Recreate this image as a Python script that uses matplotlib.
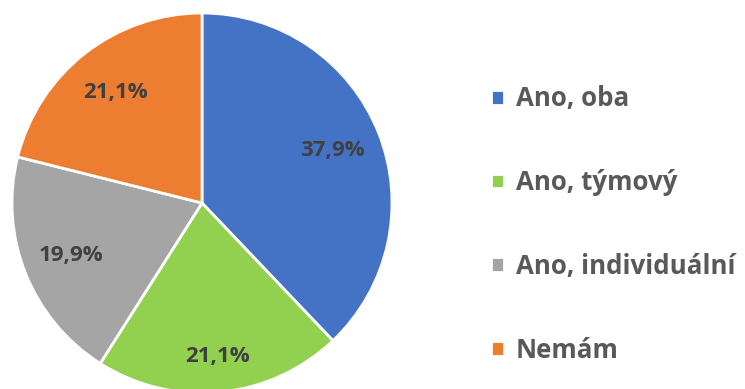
import matplotlib

matplotlib.use("Agg")
import matplotlib.pyplot as plt  # noqa: E402

labels = ["Ano, oba", "Ano, týmový", "Ano, individuální", "Nemám"]
shares = [37.9, 21.1, 19.9, 21.1]
colors = ["#4472C4", "#92D050", "#A5A5A5", "#ED7D31"]

W, H = 745, 389
plt.rcParams["font.family"] = ["Open Sans", "DejaVu Sans"]
fig = plt.figure(figsize=(W / 100, H / 100), dpi=100)

# pie centred at (202, 203) px from top-left, radius 190 px
cx, cy, r = 202, 203, 190
ax = fig.add_axes([(cx - r) / W, (H - cy - r) / H, 2 * r / W, 2 * r / H])

wedges, _, pcts = ax.pie(
    shares,
    colors=colors,
    startangle=90,
    counterclock=False,
    autopct=lambda p: f"{p:.1f}%".replace(".", ","),
    pctdistance=0.74,
    wedgeprops=dict(edgecolor="white", linewidth=2),
    textprops=dict(fontsize=16, fontweight="bold", color="#404040"),
)
# the green label sits further out
x, y = pcts[1].get_position()
pcts[1].set_position((x * 1.1, y * 1.1))
ax.set_xlim(-1, 1)
ax.set_ylim(-1, 1)
ax.set_aspect("equal")
ax.axis("off")

fig.legend(
    wedges, labels,
    loc="upper left",
    bbox_to_anchor=(481 / W, 1 - 75 / H),
    frameon=False,
    labelcolor="#595959",
    prop=dict(weight="bold", size=18.6),
    handlelength=0.5, handleheight=0.5,
    handletextpad=0.45,
    labelspacing=2.2,
    borderaxespad=0,
)

fig.savefig("out.png", dpi=100)
